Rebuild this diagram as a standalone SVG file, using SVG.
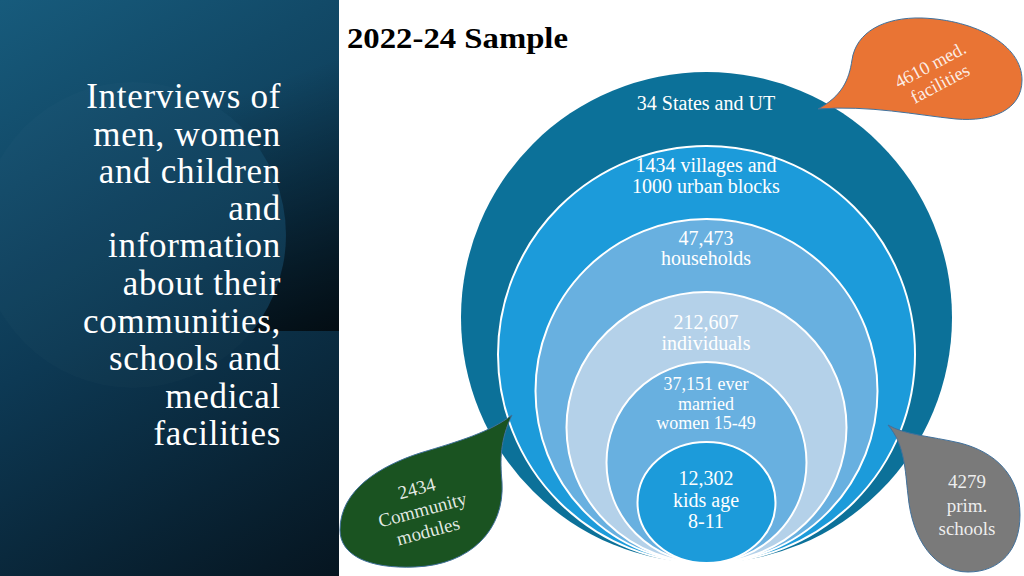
<svg xmlns="http://www.w3.org/2000/svg" width="1024" height="576" viewBox="0 0 1024 576">
  <defs>
    <linearGradient id="panelGrad" gradientUnits="userSpaceOnUse" x1="0" y1="0" x2="339" y2="576">
      <stop offset="0" stop-color="#175b7c"/>
      <stop offset="0.5" stop-color="#0d3954"/>
      <stop offset="1" stop-color="#061520"/>
    </linearGradient>
    <linearGradient id="shadeGrad" gradientUnits="userSpaceOnUse" x1="250" y1="90" x2="339" y2="331">
      <stop offset="0" stop-color="#000000" stop-opacity="0"/>
      <stop offset="1" stop-color="#000000" stop-opacity="0.7"/>
    </linearGradient>
    <style>
      .side { font-family: "Liberation Serif", "Times New Roman", serif; font-size: 35px; fill: #ffffff; text-anchor: end; letter-spacing: 0.7px; }
      .title { font-family: "Liberation Serif", "Times New Roman", serif; font-size: 30px; font-weight: bold; fill: #000000; }
      .ct { font-family: "Liberation Serif", "Times New Roman", serif; font-size: 20px; fill: #ffffff; text-anchor: middle; }
      .ct18 { font-size: 18px; }
      .ring { stroke: #ffffff; stroke-width: 2; }
      .co { stroke: #41719c; stroke-width: 1; }
      .cot { font-family: "Liberation Serif", "Times New Roman", serif; font-size: 18.5px; fill: #ffffff; fill-opacity: 0.88; text-anchor: middle; }
      .cot19 { font-size: 19px; }
    </style>
  </defs>

  <rect x="0" y="0" width="1024" height="576" fill="#ffffff"/>

  <!-- left panel -->
  <g id="side-panel">
    <rect x="0" y="0" width="339" height="576" fill="url(#panelGrad)"/>
    <rect x="200" y="60" width="139" height="271" fill="url(#shadeGrad)"/>
    <circle cx="133" cy="235" r="153" fill="url(#panelGrad)"/>
    <circle cx="133" cy="235" r="153" fill="#ffffff" fill-opacity="0.015"/>
    <text class="side" x="281" y="108">Interviews of</text>
    <text class="side" x="281" y="146">men, women</text>
    <text class="side" x="281" y="183">and children</text>
    <text class="side" x="281" y="220">and</text>
    <text class="side" x="281" y="257">information</text>
    <text class="side" x="281" y="295">about their</text>
    <text class="side" x="281" y="333">communities,</text>
    <text class="side" x="281" y="370">schools and</text>
    <text class="side" x="281" y="408">medical</text>
    <text class="side" x="281" y="445">facilities</text>
  </g>

  <text class="title" x="347" y="48" textLength="221" lengthAdjust="spacingAndGlyphs">2022-24 Sample</text>

  <g id="connectors"></g>

  <!-- nested circles -->
  <g id="states">
    <circle cx="706.5" cy="317.5" r="245.5" fill="#0c7199"/>
    <text class="ct" x="706" y="110">34 States and UT</text>
  </g>
  <g id="villages">
    <circle class="ring" cx="706.5" cy="354.5" r="208.5" fill="#1c9bda"/>
    <text class="ct" x="706" y="172">1434 villages and</text>
    <text class="ct" x="706" y="193">1000 urban blocks</text>
  </g>
  <g id="households">
    <ellipse class="ring" cx="706.5" cy="391" rx="171" ry="172" fill="#68b0e0"/>
    <text class="ct" x="706" y="245">47,473</text>
    <text class="ct" x="706" y="265">households</text>
  </g>
  <g id="individuals">
    <ellipse class="ring" cx="706.5" cy="427.5" rx="140" ry="135.5" fill="#b4d1e9"/>
    <text class="ct" x="706" y="329">212,607</text>
    <text class="ct" x="706" y="350">individuals</text>
  </g>
  <g id="women">
    <ellipse class="ring" cx="706.5" cy="462.5" rx="100" ry="100.5" fill="#68b0e0"/>
    <text class="ct ct18" x="706" y="390">37,151 ever</text>
    <text class="ct ct18" x="706" y="410">married</text>
    <text class="ct ct18" x="706" y="429">women 15-49</text>
  </g>
  <g id="kids">
    <ellipse class="ring" cx="706.5" cy="502.5" rx="69" ry="60.5" fill="#1c9bda"/>
    <text class="ct" x="706" y="485">12,302</text>
    <text class="ct" x="706" y="507">kids age</text>
    <text class="ct" x="706" y="528">8-11</text>
  </g>

  <!-- callouts -->
  <g id="med-facilities">
    <path class="co" fill="#e97434" d="M818,109 C842,96 849,80 852,60 C856,32 884,17 922,18 C976,20 1022,45 1022,80 C1022,110 992,122 956,119 C916,115 870,105 818,109 Z"/>
    <g transform="rotate(-28 935 74)">
      <text class="cot" x="935" y="70">4610 med.</text>
      <text class="cot" x="935" y="91">facilities</text>
    </g>
  </g>
  <g id="community-modules">
    <path class="co" fill="#1a5321" d="M512,415 C500,440 500,460 502,482 C505,530 470,565 415,567 C368,569 340,555 340,530 C340,490 380,466 420,453 C460,441 490,432 512,415 Z"/>
    <g transform="rotate(-15 423 512)">
      <text class="cot cot19" x="423" y="494">2434</text>
      <text class="cot cot19" x="423" y="516">Community</text>
      <text class="cot cot19" x="423" y="538">modules</text>
    </g>
  </g>
  <g id="prim-schools">
    <path class="co" fill="#7a7a7a" d="M888,425 C905,445 905,470 908,495 C912,540 935,572 968,572 C1000,572 1020,550 1020,515 C1020,475 995,452 960,443 C930,436 905,435 888,425 Z"/>
    <text class="cot cot19" x="967" y="488">4279</text>
    <text class="cot cot19" x="967" y="512">prim.</text>
    <text class="cot cot19" x="967" y="535">schools</text>
  </g>
</svg>
